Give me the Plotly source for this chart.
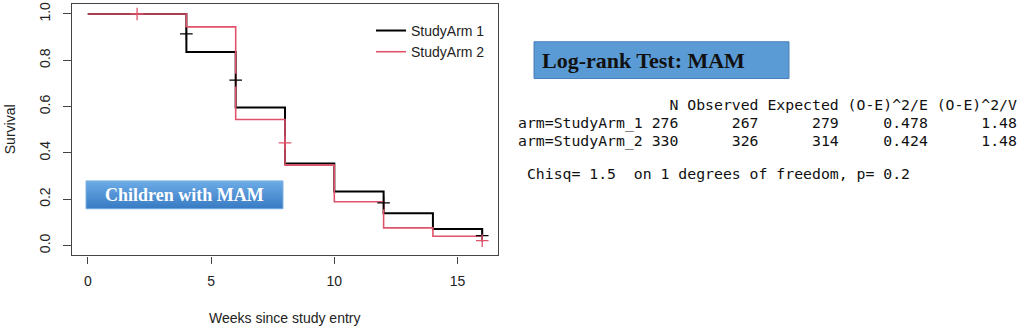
import plotly.graph_objects as go

W, H = 1029, 329

# ---- Kaplan-Meier step data (weeks, survival) ----
arm1_t = [0, 4, 6, 8, 10, 12, 14, 16]
arm1_s = [1.0, 0.836, 0.596, 0.354, 0.233, 0.139, 0.071, 0.043]
arm2_t = [0, 4, 6, 8, 10, 12, 14, 16]
arm2_s = [1.0, 0.944, 0.544, 0.347, 0.189, 0.076, 0.040, 0.021]

# censoring marks
arm1_cens_t = [4, 6, 12, 16]
arm1_cens_s = [0.914, 0.714, 0.184, 0.043]
arm2_cens_t = [2, 8, 16]
arm2_cens_s = [1.0, 0.443, 0.021]

x_ticks = [0, 5, 10, 15]
y_ticks = [0.0, 0.2, 0.4, 0.6, 0.8, 1.0]
y_ticktext = ["0.0", "0.2", "0.4", "0.6", "0.8", "1.0"]

series_names = ["StudyArm 1", "StudyArm 2"]

# ---- Log-rank table ----
groups = ["arm=StudyArm_1", "arm=StudyArm_2"]
n_vals = [276, 330]
observed = [267, 326]
expected = [279, 314]
oe2_e = ["0.478", "0.424"]
oe2_v = ["1.48", "1.48"]
chisq, dof, pval = "1.5", 1, "0.2"

BLACK = "#000000"
RED = "#DF536B"


def px_x(p):
    return p / W


def px_y(p):
    return 1 - p / H


fig = go.Figure()
fig.add_trace(go.Scatter(x=arm1_t, y=arm1_s, mode="lines", line=dict(shape="hv", color=BLACK, width=2),
                         name=series_names[0]))
fig.add_trace(go.Scatter(x=arm2_t, y=arm2_s, mode="lines", line=dict(shape="hv", color=RED, width=1.6),
                         name=series_names[1]))
fig.add_trace(go.Scatter(x=arm1_cens_t, y=arm1_cens_s, mode="markers", showlegend=False,
                         marker=dict(symbol="cross-thin", size=9, line=dict(color=BLACK, width=1.3))))
fig.add_trace(go.Scatter(x=arm2_cens_t, y=arm2_cens_s, mode="markers", showlegend=False,
                         marker=dict(symbol="cross-thin", size=9, line=dict(color=RED, width=1.3))))

axis_font = dict(family="Liberation Sans, Arial, sans-serif", size=14, color="#222")

fig.update_xaxes(domain=[px_x(72), px_x(498)], range=[-0.64, 16.64], tickvals=x_ticks,
                 ticks="outside", ticklen=7, tickcolor="#444", showline=True, mirror=True,
                 linecolor="#444", linewidth=1.3, showgrid=False, zeroline=False, tickfont=axis_font,
                 ticklabelstandoff=6, ticklabeloverflow="allow")
fig.update_yaxes(domain=[px_y(255), px_y(2)], range=[-0.043, 1.043], tickvals=y_ticks, ticktext=y_ticktext,
                 tickangle=-90, ticks="outside", ticklen=8, tickcolor="#444", showline=True, mirror=True,
                 linecolor="#444", linewidth=1.3, showgrid=False, zeroline=False, tickfont=axis_font,
                 ticklabelstandoff=7, ticklabeloverflow="allow")

annotations = [
    dict(text="Weeks since study entry", x=px_x(284), y=px_y(318), xref="paper", yref="paper",
         showarrow=False, font=axis_font, xanchor="center", yanchor="middle"),
    dict(text="Survival", x=px_x(10), y=px_y(128), xref="paper", yref="paper", textangle=-90,
         showarrow=False, font=axis_font, xanchor="center", yanchor="middle"),
    dict(text="<b>Children with MAM</b>", x=px_x(184), y=px_y(194), xref="paper", yref="paper",
         showarrow=False, xanchor="center", yanchor="middle",
         font=dict(family="Liberation Serif, serif", size=18, color="white")),
    dict(text="<b>Log-rank Test: MAM</b>", x=px_x(540), y=px_y(59), xref="paper", yref="paper",
         showarrow=False, xanchor="left", yanchor="middle",
         font=dict(family="Liberation Serif, serif", size=22, color="#111")),
]

# table text lines
header = f"{'':14} {'N':>3} {'Observed':>8} {'Expected':>8} {'(O-E)^2/E':>9} {'(O-E)^2/V':>9}"
rows = [f"{g:14} {n:>3} {o:>8} {e:>8} {a:>9} {b:>9}"
        for g, n, o, e, a, b in zip(groups, n_vals, observed, expected, oe2_e, oe2_v)]
chisq_line = f" Chisq= {chisq}  on {dof} degrees of freedom, p= {pval}"
lines = [(header, 103), (rows[0], 122), (rows[1], 140), (chisq_line, 173)]
mono = dict(family="DejaVu Sans Mono, monospace", size=14.8, color="#111")
for txt, yy in lines:
    annotations.append(dict(text=txt.replace(" ", "\u00a0"), x=px_x(516), y=px_y(yy), xref="paper",
                            yref="paper", showarrow=False, xanchor="left", yanchor="middle", font=mono))

# "Children with MAM" box with a light-to-dark vertical gradient
# (overlapping bands, each running to the bottom edge, so no seams show)
shapes = []
top_rgb, bot_rgb = (108, 170, 230), (58, 124, 196)
box_top, box_bot, nb = 180, 208, 14
for i in range(nb):
    f = i / (nb - 1)
    c = tuple(round(a + (b - a) * f) for a, b in zip(top_rgb, bot_rgb))
    y0 = box_top + (box_bot - box_top) * i / nb
    shapes.append(dict(type="rect", xref="paper", yref="paper", x0=px_x(86), x1=px_x(283),
                       y0=px_y(box_bot), y1=px_y(y0), fillcolor=f"rgb{c}", line=dict(width=0),
                       layer="below"))
shapes.append(dict(type="rect", xref="paper", yref="paper", x0=px_x(86), x1=px_x(283), y0=px_y(208),
                   y1=px_y(180), fillcolor="rgba(0,0,0,0)", line=dict(color="#7fb2e2", width=1), layer="below"))
shapes.append(dict(type="rect", xref="paper", yref="paper", x0=px_x(534), x1=px_x(789), y0=px_y(77),
                   y1=px_y(40), fillcolor="#5b9bd5", line=dict(color="#4a7ebb", width=1), layer="below"))

fig.update_layout(
    width=W, height=H, margin=dict(l=0, r=0, t=0, b=0),
    paper_bgcolor="white", plot_bgcolor="white",
    annotations=annotations, shapes=shapes,
    legend=dict(x=px_x(371), y=px_y(13), xanchor="left", yanchor="top", bgcolor="rgba(0,0,0,0)",
                font=dict(family="Liberation Sans, Arial, sans-serif", size=14, color="#222"),
                tracegroupgap=0),
)

# remove the browser's default 8px page margin so the figure sits at the window's corner
fig.write_html("out.html", config={"displayModeBar": False},
               post_script="document.body.style.margin='0';")
